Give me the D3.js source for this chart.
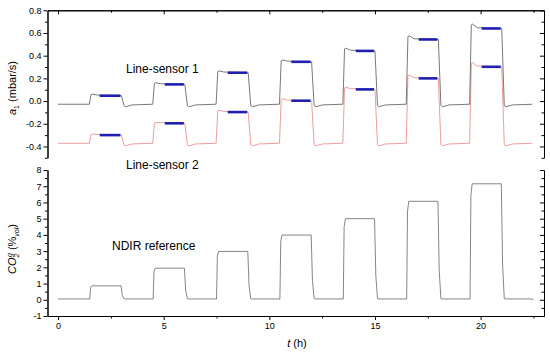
<!DOCTYPE html>
<html>
<head>
<meta charset="utf-8">
<script src="https://cdn.jsdelivr.net/npm/d3@7"></script>
<style>
  body { margin: 0; background: #fff; }
  svg { font-family: Arial, "Liberation Sans", sans-serif; }
  .axis path, .axis line { stroke: #000; stroke-width: 1; }
  .axis text { font-size: 9px; fill: #000; }
</style>
</head>
<body>
<div class="chart"></div>
<script>
// pulse timing (h)
var pulseStart = [1.5, 4.5, 7.5, 10.5, 13.5, 16.5, 19.5];
var pulseEnd   = [3.0, 6.0, 9.0, 12.0, 15.0, 18.0, 21.0];
var fitStart   = [1.97, 5.05, 8.03, 11.04, 14.09, 17.07, 20.05];
var tEnd = 22.5;

// line-sensor 1 (mbar/s)
var s1Base = -0.028, s1Dip = -0.05;
var s1Peak    = [0.062, 0.162, 0.266, 0.362, 0.466, 0.575, 0.678];
var s1Plateau = [0.047, 0.147, 0.250, 0.346, 0.442, 0.543, 0.640];

// line-sensor 2 (mbar/s)
var s2Base = -0.372, s2Dip = -0.395;
var s2Peak    = [-0.290, -0.188, -0.080, 0.020, 0.122, 0.230, 0.338];
var s2Plateau = [-0.300, -0.196, -0.097, 0.003, 0.103, 0.200, 0.302];

// NDIR reference CO2 (%vol)
var co2Base = 0.05;
var co2Level = [0.86, 1.95, 2.98, 3.99, 5.00, 6.07, 7.15];

var xTicks = [0, 5, 10, 15, 20];
var xMinor = [2.5, 7.5, 12.5, 17.5, 22.5];
var yTopTicks = [-0.4, -0.2, 0.0, 0.2, 0.4, 0.6, 0.8];
var yTopMinor = [-0.5, -0.3, -0.1, 0.1, 0.3, 0.5, 0.7];
var yBotTicks = [-1, 0, 1, 2, 3, 4, 5, 6, 7, 8];
var yBotMinor = [-0.5, 0.5, 1.5, 2.5, 3.5, 4.5, 5.5, 6.5, 7.5];

var W = 550, H = 355;
var svg = d3.select(".chart").append("svg")
  .attr("width", W).attr("height", H);

var x = d3.scaleLinear().domain([-0.5, 23]).range([47.5, 544]);
var yTop = d3.scaleLinear().domain([-0.5, 0.8]).range([157.8, 10.3]);
var yBot = d3.scaleLinear().domain([-1, 8]).range([316, 170]);

// build a sensor trace from the read-off levels
function sensorTrace(base, dip, peak, plateau) {
  var pts = [[0, base]];
  for (var i = 0; i < pulseStart.length; i++) {
    var s = pulseStart[i], e = pulseEnd[i];
    pts.push([s - 0.02, base]);
    pts.push([s + 0.06, peak[i] - 0.006]);
    pts.push([s + 0.12, peak[i]]);
    pts.push([s + 0.35, plateau[i] + 0.006]);
    pts.push([e, plateau[i]]);
    pts.push([e + 0.12, dip + 0.01]);
    pts.push([e + 0.2, dip]);
    pts.push([e + 0.5, base - 0.006]);
    var next = i + 1 < pulseStart.length ? pulseStart[i + 1] : tEnd;
    pts.push([next - 0.05, base]);
  }
  return pts;
}

function co2Trace() {
  var pts = [[0, co2Base]];
  for (var i = 0; i < pulseStart.length; i++) {
    var s = pulseStart[i], e = pulseEnd[i];
    pts.push([s, co2Base]);
    pts.push([s + 0.04, co2Level[i] * 0.9]);
    pts.push([s + 0.1, co2Level[i]]);
    pts.push([e - 0.02, co2Level[i]]);
    pts.push([e + 0.04, co2Level[i] * 0.3]);
    pts.push([e + 0.12, co2Base + 0.02]);
    pts.push([e + 0.2, co2Base]);
  }
  pts.push([tEnd - 0.15, co2Base]);
  pts.push([tEnd, co2Base - 0.03]);
  return pts;
}

var lineTop = d3.line().x(function(d) { return x(d[0]); }).y(function(d) { return yTop(d[1]); });
var lineBot = d3.line().x(function(d) { return x(d[0]); }).y(function(d) { return yBot(d[1]); });

// traces
svg.append("path").attr("d", lineTop(sensorTrace(s2Base, s2Dip, s2Peak, s2Plateau)))
  .attr("fill", "none").attr("stroke", "#e98585").attr("stroke-width", 0.8);
svg.append("path").attr("d", lineTop(sensorTrace(s1Base, s1Dip, s1Peak, s1Plateau)))
  .attr("fill", "none").attr("stroke", "#555").attr("stroke-width", 0.8);
svg.append("path").attr("d", lineBot(co2Trace()))
  .attr("fill", "none").attr("stroke", "#666").attr("stroke-width", 0.8);

// blue fitted segments
[s1Plateau, s2Plateau].forEach(function(pl) {
  svg.selectAll(null).data(pl).enter().append("line")
    .attr("x1", function(d, i) { return x(fitStart[i]); })
    .attr("x2", function(d, i) { return x(pulseEnd[i]) - 1; })
    .attr("y1", function(d) { return yTop(d); })
    .attr("y2", function(d) { return yTop(d); })
    .attr("stroke", "#1f1fb0").attr("stroke-width", 2.6);
});

function fmt1(d) { return d.toFixed(1); }

// top panel axes
var gTL = svg.append("g").attr("class", "axis").attr("transform", "translate(47.5,0)")
  .call(d3.axisLeft(yTop).tickValues(yTopTicks).tickFormat(fmt1).tickSize(4).tickSizeOuter(0).tickPadding(2));
svg.append("g").attr("class", "axis").attr("transform", "translate(47.5,0)")
  .call(d3.axisLeft(yTop).tickValues(yTopMinor).tickFormat("").tickSize(2.5).tickSizeOuter(0));
svg.append("g").attr("class", "axis").attr("transform", "translate(544,0)")
  .call(d3.axisRight(yTop).tickValues(yTopTicks).tickFormat("").tickSize(-4).tickSizeOuter(0));
svg.append("g").attr("class", "axis").attr("transform", "translate(544,0)")
  .call(d3.axisRight(yTop).tickValues(yTopMinor).tickFormat("").tickSize(-2.5).tickSizeOuter(0));
svg.append("g").attr("class", "axis").attr("transform", "translate(0,10.3)")
  .call(d3.axisTop(x).tickValues(xTicks).tickFormat("").tickSize(-4).tickSizeOuter(0));
svg.append("g").attr("class", "axis").attr("transform", "translate(0,10.3)")
  .call(d3.axisTop(x).tickValues(xMinor).tickFormat("").tickSize(-2.5).tickSizeOuter(0));

// bottom panel axes
svg.append("g").attr("class", "axis").attr("transform", "translate(47.5,0)")
  .call(d3.axisLeft(yBot).tickValues(yBotTicks).tickSize(4).tickSizeOuter(0).tickPadding(2));
svg.append("g").attr("class", "axis").attr("transform", "translate(47.5,0)")
  .call(d3.axisLeft(yBot).tickValues(yBotMinor).tickFormat("").tickSize(2.5).tickSizeOuter(0));
svg.append("g").attr("class", "axis").attr("transform", "translate(544,0)")
  .call(d3.axisRight(yBot).tickValues(yBotTicks).tickFormat("").tickSize(-4).tickSizeOuter(0));
svg.append("g").attr("class", "axis").attr("transform", "translate(544,0)")
  .call(d3.axisRight(yBot).tickValues(yBotMinor).tickFormat("").tickSize(-2.5).tickSizeOuter(0));
svg.append("g").attr("class", "axis").attr("transform", "translate(0,316)")
  .call(d3.axisBottom(x).tickValues(xTicks).tickSize(4).tickSizeOuter(0).tickPadding(3));
svg.append("g").attr("class", "axis").attr("transform", "translate(0,316)")
  .call(d3.axisBottom(x).tickValues(xMinor).tickFormat("").tickSize(2.5).tickSizeOuter(0));

svg.selectAll(".axis text").text(function() { return d3.select(this).text().replace("\u2212", "-"); });

// axis titles
var ta = svg.append("text").attr("transform", "translate(16,88) rotate(-90)")
  .attr("text-anchor", "middle").attr("font-size", 11);
ta.append("tspan").attr("font-style", "italic").text("a");
ta.append("tspan").attr("font-size", 7).attr("dy", 3).text("1");
ta.append("tspan").attr("dy", -3).text(" (mbar/s)");

var tb = svg.append("text").attr("transform", "translate(16,249) rotate(-90)")
  .attr("text-anchor", "middle").attr("font-size", 11);
tb.append("tspan").attr("font-style", "italic").text("CO");
tb.append("tspan").attr("font-size", 7).attr("font-style", "italic").attr("dy", 3).text("2");
tb.append("tspan").attr("font-size", 7).attr("font-style", "italic").attr("dx", -3.5).attr("dy", -7).text("g");
tb.append("tspan").attr("dy", 4).text(" (%");
tb.append("tspan").attr("font-size", 7).attr("font-style", "italic").attr("dy", 3).text("vol");
tb.append("tspan").attr("dy", -3).text(")");

var tx = svg.append("text").attr("x", 297).attr("y", 347).attr("text-anchor", "middle").attr("font-size", 11);
tx.append("tspan").attr("font-style", "italic").text("t");
tx.append("tspan").text(" (h)");

// annotations
svg.append("text").attr("x", 126).attr("y", 73).attr("font-size", 12).text("Line-sensor 1");
svg.append("text").attr("x", 126).attr("y", 169).attr("font-size", 12).text("Line-sensor 2");
svg.append("text").attr("x", 112).attr("y", 250).attr("font-size", 12).text("NDIR reference");
</script>
</body>
</html>
